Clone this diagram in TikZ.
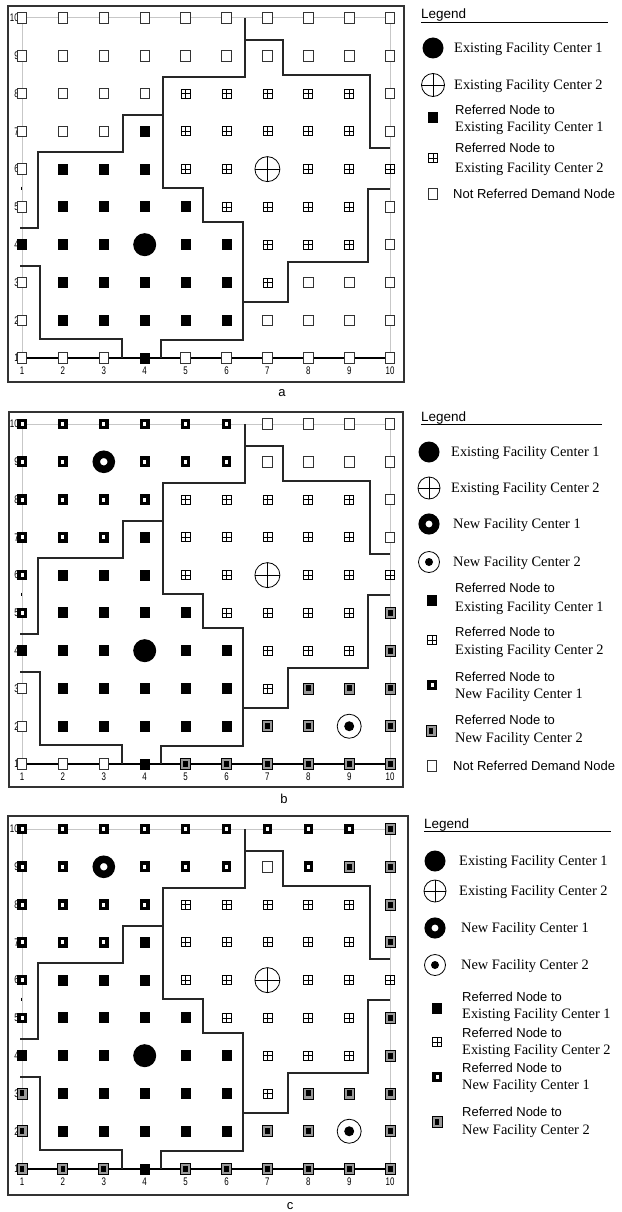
\documentclass[tikz,border=0pt]{standalone}
\usepackage{fontspec}
\setmainfont{Liberation Serif}
\setsansfont{Liberation Sans}
\newfontfamily\axisfont[FakeStretch=0.72]{Liberation Sans}
\tikzset{
  mk/.style={inner sep=0pt, outer sep=0pt},
  mkE/.style={mk, draw=black!80, line width=0.9pt, fill=white, minimum width=9.5pt, minimum height=10.5pt},
  mkF/.style={mk, fill=black, minimum width=10pt, minimum height=11pt},
  mkP/.style={mk, draw=black, line width=0.8pt, fill=white, minimum width=9pt, minimum height=9pt,
    path picture={\draw[line width=0.8pt] (path picture bounding box.north)--(path picture bounding box.south)
      (path picture bounding box.west)--(path picture bounding box.east);}},
  mkA/.style={mk, draw=black, line width=3.3pt, fill=white, minimum width=6.3pt, minimum height=7.3pt},
  mkB/.style={mk, draw=black, line width=0.9pt, fill=black!40, minimum width=10pt, minimum height=11pt,
    path picture={\fill[black] ([shift={(-2.4,-3)}]path picture bounding box.center) rectangle ([shift={(2.4,3)}]path picture bounding box.center);}},
  mkC/.style={mk, circle, fill=black, minimum size=23pt},
  mkX/.style={mk, circle, draw=black, line width=0.8pt, fill=white, minimum size=25pt,
    path picture={\draw[line width=0.8pt] (path picture bounding box.north)--(path picture bounding box.south)
      (path picture bounding box.west)--(path picture bounding box.east);}},
  mkD/.style={mk, circle, draw=black, line width=7.5pt, fill=white, minimum size=15pt},
  mkG/.style={mk, circle, draw=black, line width=0.8pt, fill=white, minimum size=24pt,
    path picture={\fill[black] (path picture bounding box.center) circle (5pt);}},
  gridgray/.style={draw=black!22, line width=1pt},
  bound/.style={draw=black!85, line width=1.1pt},
  framebox/.style={draw=black!80, line width=1.2pt},
  rowlab/.style={anchor=east, inner sep=0pt, font=\fontsize{11}{11}\selectfont\axisfont},
  collab/.style={inner sep=0pt, font=\fontsize{11}{11}\selectfont\axisfont},
  plab/.style={inner sep=0pt, font=\fontsize{13}{13}\selectfont\sffamily},
  lsans/.style={anchor=west, inner sep=0pt, text height=9.5pt, text depth=0pt, font=\fontsize{13}{13}\selectfont\sffamily},
  lserif/.style={anchor=west, inner sep=0pt, text height=9.5pt, text depth=0pt, font=\fontsize{14.4}{14}\selectfont\rmfamily},
  lhead/.style={anchor=base west, inner sep=0pt, font=\fontsize{13.5}{13.5}\selectfont\sffamily},
}
\newcommand{\gridpanel}[3]{%
  \begin{scope}[shift={(0,#2)}]
    \draw[gridgray] (22,18) -- (390,18);
    \draw[gridgray] (22,18) -- (22,358);
    \draw[gridgray] (390,18) -- (390,358);
    \draw[black] (21,186.5) -- (21,189.5);
    \draw[line width=1.8pt] (22,358) -- (390,358);
    \draw[bound] (20,228) -- (38,228) -- (38,152) -- (123,152) -- (123,115) -- (163,115) -- (163,77) -- (245,77) -- (245,18);
    \draw[bound] (245,40) -- (283,40) -- (283,75) -- (370,75) -- (370,148) -- (390,148);
    \draw[bound] (163,115) -- (163,188) -- (203,188) -- (203,222) -- (243,222) -- (243,340) -- (161,340) -- (161,358);
    \draw[bound] (20,266) -- (40,266) -- (40,339) -- (122,339) -- (122,358);
    \draw[bound] (243,302) -- (288,302) -- (288,262) -- (368,262) -- (368,189) -- (390,189);
    \foreach \r in {1,...,10} \node[rowlab] (#1-rl\r) at (19,{18+37.78*(10-\r)}) {\r};
    \foreach \c in {1,...,10} \node[collab] (#1-cl\c) at ({22+40.9*(\c-1)},370.5) {\c};
    \foreach \r/\lst in {#3} {
      \foreach \t [count=\c] in \lst {
        \node[mk\t] (#1-\r-\c) at ({22+40.9*(\c-1)},{18+37.78*(10-\r)}) {};
      }
    }
  \end{scope}}
\begin{document}
\begin{tikzpicture}[x=1pt,y=-1pt]
\useasboundingbox[fill=white] (0,0) rectangle (621,1212);

% ---------- panel a ----------
\draw[framebox] (8,6) rectangle (404,382);
\gridpanel{pa}{0}{%
10/{E,E,E,E,E,E,E,E,E,E},
9/{E,E,E,E,E,E,E,E,E,E},
8/{E,E,E,E,P,P,P,P,P,E},
7/{E,E,E,F,P,P,P,P,P,E},
6/{E,F,F,F,P,P,X,P,P,P},
5/{E,F,F,F,F,P,P,P,P,E},
4/{F,F,F,C,F,F,P,P,P,E},
3/{E,F,F,F,F,F,P,E,E,E},
2/{E,F,F,F,F,F,E,E,E,E},
1/{E,E,E,F,E,E,E,E,E,E}}
\node[plab] (pa-lab) at (282,393) {a};

% legend a
\node[lhead] (la-head) at (421,18.5) {Legend};
\draw[line width=0.9pt] (la-head.base west) ++(0,3.5) -- (608,22);
\node[mkC, minimum size=21pt] (la-m1) at (433,48) {};
\node[lserif] (la-t1) at (454,48) {Existing Facility Center 1};
\node[mkX, minimum size=23pt] (la-m2) at (433,85) {};
\node[lserif] (la-t2) at (454,85) {Existing Facility Center 2};
\node[mkF] (la-m3) at (433,118) {};
\node[lsans] (la-t3a) at (455,110) {Referred Node to};
\node[lserif] (la-t3b) at (455,127) {Existing Facility Center 1};
\node[mkP] (la-m4) at (433,158) {};
\node[lsans] (la-t4a) at (455,148) {Referred Node to};
\node[lserif] (la-t4b) at (455,168) {Existing Facility Center 2};
\node[mkE] (la-m5) at (433,194) {};
\node[lsans] (la-t5) at (453,194) {Not Referred Demand Node};

% ---------- panel b ----------
\draw[framebox] (9,412) rectangle (403,787);
\gridpanel{pb}{406}{%
10/{A,A,A,A,A,A,E,E,E,E},
9/{A,A,D,A,A,A,E,E,E,E},
8/{A,A,A,A,P,P,P,P,P,E},
7/{A,A,A,F,P,P,P,P,P,E},
6/{A,F,F,F,P,P,X,P,P,P},
5/{A,F,F,F,F,P,P,P,P,B},
4/{F,F,F,C,F,F,P,P,P,B},
3/{E,F,F,F,F,F,P,B,B,B},
2/{E,F,F,F,F,F,B,B,G,B},
1/{E,E,E,F,B,B,B,B,B,B}}
\node[plab] (pb-lab) at (284,799) {b};

% legend b
\node[lhead] (lb-head) at (421,421) {Legend};
\draw[line width=0.9pt] (lb-head.base west) ++(0,3.5) -- (602,424.5);
\node[mkC, minimum size=21pt] (lb-m1) at (429,452) {};
\node[lserif] (lb-t1) at (451,452) {Existing Facility Center 1};
\node[mkX, minimum size=22pt] (lb-m2) at (429,488) {};
\node[lserif] (lb-t2) at (451,488) {Existing Facility Center 2};
\node[mkD, minimum size=14pt, line width=7pt] (lb-m3) at (429,524) {};
\node[lserif] (lb-t3) at (453,524) {New Facility Center 1};
\node[mkG, minimum size=21pt, path picture={\fill[black] (path picture bounding box.center) circle (4pt);}] (lb-m4) at (429,562) {};
\node[lserif] (lb-t4) at (453,562) {New Facility Center 2};
\node[mkF] (lb-m5) at (432,600) {};
\node[lsans] (lb-t5a) at (455,588) {Referred Node to};
\node[lserif] (lb-t5b) at (455,607) {Existing Facility Center 1};
\node[mkP] (lb-m6) at (432,640) {};
\node[lsans] (lb-t6a) at (455,632) {Referred Node to};
\node[lserif] (lb-t6b) at (455,650) {Existing Facility Center 2};
\node[mkA] (lb-m7) at (432,685) {};
\node[lsans] (lb-t7a) at (455,677) {Referred Node to};
\node[lserif] (lb-t7b) at (455,694) {New Facility Center 1};
\node[mkB] (lb-m8) at (431,731) {};
\node[lsans] (lb-t8a) at (455,720) {Referred Node to};
\node[lserif] (lb-t8b) at (455,738) {New Facility Center 2};
\node[mkE] (lb-m9) at (432,766) {};
\node[lsans] (lb-t9) at (453,766) {Not Referred Demand Node};

% ---------- panel c ----------
\draw[framebox] (8,816) rectangle (408,1195);
\gridpanel{pc}{811}{%
10/{A,A,A,A,A,A,A,A,A,B},
9/{A,A,D,A,A,A,E,A,B,B},
8/{A,A,A,A,P,P,P,P,P,B},
7/{A,A,A,F,P,P,P,P,P,B},
6/{A,F,F,F,P,P,X,P,P,P},
5/{A,F,F,F,F,P,P,P,P,B},
4/{F,F,F,C,F,F,P,P,P,B},
3/{B,F,F,F,F,F,P,B,B,B},
2/{B,F,F,F,F,F,B,B,G,B},
1/{B,B,B,F,B,B,B,B,B,B}}
\node[plab] (pc-lab) at (290,1206) {c};

% legend c
\node[lhead] (lc-head) at (424,828) {Legend};
\draw[line width=0.9pt] (lc-head.base west) ++(0,3.5) -- (611,831.5);
\node[mkC, minimum size=21pt] (lc-m1) at (435,861) {};
\node[lserif] (lc-t1) at (459,861) {Existing Facility Center 1};
\node[mkX, minimum size=22pt] (lc-m2) at (435,891) {};
\node[lserif] (lc-t2) at (459,891) {Existing Facility Center 2};
\node[mkD, minimum size=14pt, line width=7pt] (lc-m3) at (435,928) {};
\node[lserif] (lc-t3) at (461,928) {New Facility Center 1};
\node[mkG, minimum size=21pt, path picture={\fill[black] (path picture bounding box.center) circle (4pt);}] (lc-m4) at (435,965) {};
\node[lserif] (lc-t4) at (461,965) {New Facility Center 2};
\node[mkF] (lc-m5) at (437,1008) {};
\node[lsans] (lc-t5a) at (462,997) {Referred Node to};
\node[lserif] (lc-t5b) at (462,1014) {Existing Facility Center 1};
\node[mkP] (lc-m6) at (437,1042) {};
\node[lsans] (lc-t6a) at (462,1033) {Referred Node to};
\node[lserif] (lc-t6b) at (462,1050) {Existing Facility Center 2};
\node[mkA] (lc-m7) at (437,1077) {};
\node[lsans] (lc-t7a) at (462,1068) {Referred Node to};
\node[lserif] (lc-t7b) at (462,1085) {New Facility Center 1};
\node[mkB] (lc-m8) at (437,1122) {};
\node[lsans] (lc-t8a) at (462,1112) {Referred Node to};
\node[lserif] (lc-t8b) at (462,1130) {New Facility Center 2};
\end{tikzpicture}
\end{document}
